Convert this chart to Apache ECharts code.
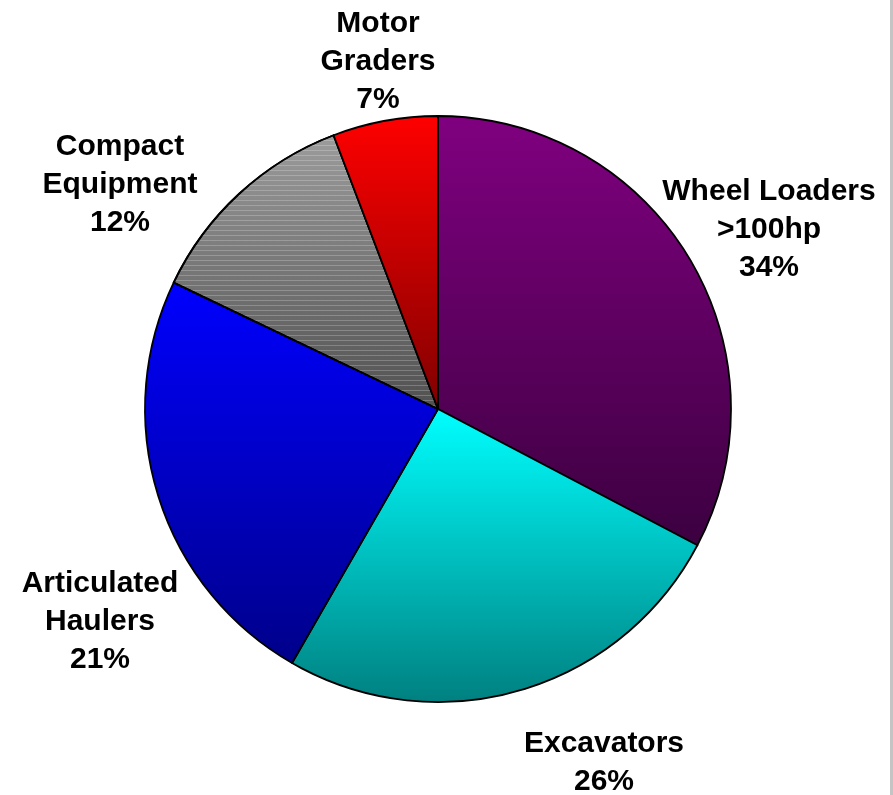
<!DOCTYPE html>
<html>
<head>
<meta charset="utf-8">
<script src="https://cdn.jsdelivr.net/npm/echarts@6/dist/echarts.min.js"></script>
<style>
  html, body { margin: 0; padding: 0; background: #fff; }
  #chart { width: 893px; height: 795px; }
</style>
</head>
<body>
<div id="chart"></div>
<script>
// 各类设备占比
var names = ['Wheel Loaders\n>100hp', 'Excavators', 'Articulated\nHaulers', 'Compact\nEquipment', 'Motor\nGraders'];
// 扇区大小 (按图中角度读取)
var sliceValues = [32.7, 25.6, 23.8, 12.1, 5.8];
// 图中标注的百分比
var pctLabels = [34, 26, 21, 12, 7];
// 渐变色: 上 -> 下
var topColors = ['#800080', '#00ffff', '#0000ff', '#9c9c9c', '#ff0000'];
var bottomColors = ['#3c0040', '#008080', '#00008a', '#505050', '#800000'];
// 标签中心位置
var labelX = [769, 604, 100, 120, 378];
var labelY = [230, 763, 622, 185, 62];

var chart = echarts.init(document.getElementById('chart'));

var pieData = [];
for (let i = 0; i < names.length; i++) {
    let item = {
        name: names[i],
        value: sliceValues[i],
        pct: pctLabels[i],
        itemStyle: {
            color: new echarts.graphic.LinearGradient(0, 0, 0, 1, [
                { offset: 0, color: topColors[i] },
                { offset: 1, color: bottomColors[i] }
            ])
        }
    };
    if (i == 3) {
        // 灰色条纹
        item.itemStyle.decal = {
            symbol: 'rect',
            symbolSize: 1,
            dashArrayX: [1, 0],
            dashArrayY: [1, 4],
            rotation: 0,
            color: 'rgba(255,255,255,0.22)'
        };
    }
    pieData.push(item);
}

var option = {
    animation: false,
    backgroundColor: '#fff',
    graphic: [{
        type: 'rect',
        shape: { x: 890, y: 0, width: 3, height: 795 },
        style: { fill: '#c4c4c4' }
    }],
    series: [{
        type: 'pie',
        center: [438, 409],
        radius: [0, 293],
        startAngle: 90,
        clockwise: true,
        data: pieData,
        itemStyle: { borderColor: '#000', borderWidth: 1.8 },
        label: {
            show: true,
            position: 'outside',
            formatter: function (p) {
                return p.name + '\n' + p.data.pct + '%';
            },
            fontFamily: 'Liberation Sans, Arial, sans-serif',
            fontWeight: 'bold',
            fontSize: 30,
            lineHeight: 38,
            color: '#000',
            align: 'center',
            overflow: 'none'
        },
        labelLine: { show: false },
        labelLayout: function (params) {
            let i = params.dataIndex;
            return {
                x: labelX[i],
                y: labelY[i],
                align: 'center',
                verticalAlign: 'middle'
            };
        },
        emphasis: { disabled: true }
    }]
};
chart.setOption(option);
</script>
</body>
</html>
